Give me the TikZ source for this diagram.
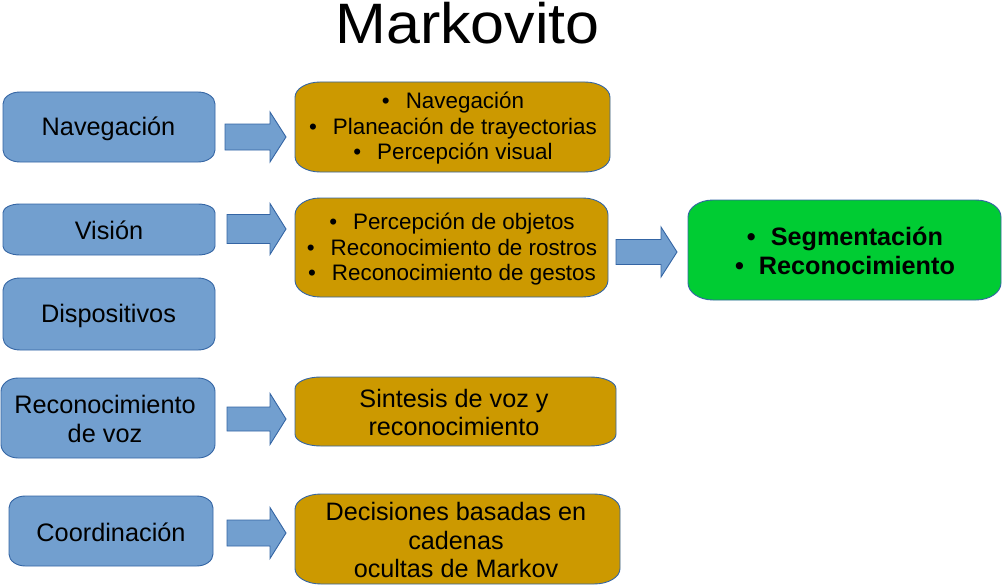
\documentclass[tikz,border=0pt]{standalone}
\usepackage{fontspec}
\setmainfont{Liberation Sans}
\usetikzlibrary{backgrounds}
\definecolor{bluefill}{HTML}{729FCF}
\definecolor{edgeblue}{HTML}{3465A4}
\definecolor{goldfill}{HTML}{CC9900}
\definecolor{greenfill}{HTML}{00CC33}
\newcommand{\rbox}[5]{%
  \pgfmathsetmacro{\rx}{0.08*(#3-#1)}%
  \pgfmathsetmacro{\ry}{0.17*(#4-#2)}%
  \draw[#5] (#1+\rx,#2) -- (#3-\rx,#2)
    arc[start angle=90,end angle=0,x radius=\rx pt,y radius=\ry pt]
    -- (#3,#4-\ry)
    arc[start angle=0,end angle=-90,x radius=\rx pt,y radius=\ry pt]
    -- (#1+\rx,#4)
    arc[start angle=270,end angle=180,x radius=\rx pt,y radius=\ry pt]
    -- (#1,#2+\ry)
    arc[start angle=180,end angle=90,x radius=\rx pt,y radius=\ry pt]
    -- cycle;}
\newcommand{\barrow}[6]{% x1, xhead, xtip, y, shaft half, head half
  \draw[arrowshape] (#1,#4-#5) -- (#2,#4-#5) -- (#2,#4-#6) -- (#3,#4)
    -- (#2,#4+#6) -- (#2,#4+#5) -- (#1,#4+#5) -- cycle;}
\newcommand{\bul}{\textbullet\hspace{16pt}}
\newcommand{\bbul}{\textbullet\hspace{15pt}}
\tikzset{
  bluebox/.style={fill=bluefill,draw=edgeblue,line width=0.9pt},
  goldbox/.style={fill=goldfill,draw=edgeblue,line width=0.9pt},
  greenbox/.style={fill=greenfill,draw=edgeblue,line width=0.9pt},
  arrowshape/.style={fill=bluefill,draw=edgeblue,line width=0.9pt,line join=miter},
  bluetext/.style={inner sep=0pt,align=center,font=\fontsize{25.3}{29}\selectfont},
  goldtext/.style={inner sep=0pt,align=center,font=\fontsize{22.4}{25.5}\selectfont},
  goldbig/.style={inner sep=0pt,align=center,font=\fontsize{25.2}{28.5}\selectfont},
  greentext/.style={inner sep=0pt,align=center,font=\fontsize{25.2}{29}\selectfont\bfseries},
  titletext/.style={inner sep=0pt,font=\fontsize{57}{68}\selectfont,xscale=1.07}
}
\begin{document}
\begin{tikzpicture}[x=1pt,y=-1pt]
\useasboundingbox (0,0) rectangle (1002,586);
\node[titletext,anchor=base] (title) at (467.5,44) {Markovito};

% left column
\node[bluetext] (nav) at (108.5,128.5) {Navegación};
\node[bluetext] (vis) at (109,230) {Visión};
\node[bluetext] (dis) at (108.5,315.5) {Dispositivos};
\node[bluetext] (rec) at (105,419) {Reconocimiento\\de voz};
\node[bluetext] (coo) at (111,532) {Coordinación};

% middle column
\node[goldtext] (navg) at (453,128.5) {\bul Navegación\\\bul Planeación de trayectorias\\\bul Percepción visual};
\node[goldtext] (visg) at (452,249.5) {\bul Percepción de objetos\\\bul Reconocimiento de rostros\\\bul Reconocimiento de gestos};
\node[goldbig] (recg) at (454,412.5) {Sintesis de voz y\\reconocimiento};
\node[goldbig] (coog) at (456,540) {Decisiones basadas en\\cadenas\\ocultas de Markov};

% right
\node[greentext] (seg) at (845,251) {\bbul Segmentación\\\bbul Reconocimiento};

\begin{pgfonlayer}{background}
\rbox{3}{92}{215}{162}{bluebox}
\rbox{3}{204}{215}{255}{bluebox}
\rbox{3}{278}{215}{350}{bluebox}
\rbox{1}{378}{215}{458}{bluebox}
\rbox{9}{496}{213}{566}{bluebox}
\rbox{295}{82}{610}{172}{goldbox}
\rbox{295}{198}{608}{297}{goldbox}
\rbox{295}{377}{616}{446}{goldbox}
\rbox{295}{494}{620}{584}{goldbox}
\rbox{688}{200}{1001}{300}{greenbox}
\end{pgfonlayer}

\barrow{225}{270}{286}{137}{13}{25}
\barrow{227}{270}{286}{229}{14.5}{25.5}
\barrow{616}{661}{677}{252}{12.5}{25}
\barrow{227}{270}{286}{419}{12}{25.5}
\barrow{227}{270}{286}{533}{13}{25.5}
\end{tikzpicture}
\end{document}
